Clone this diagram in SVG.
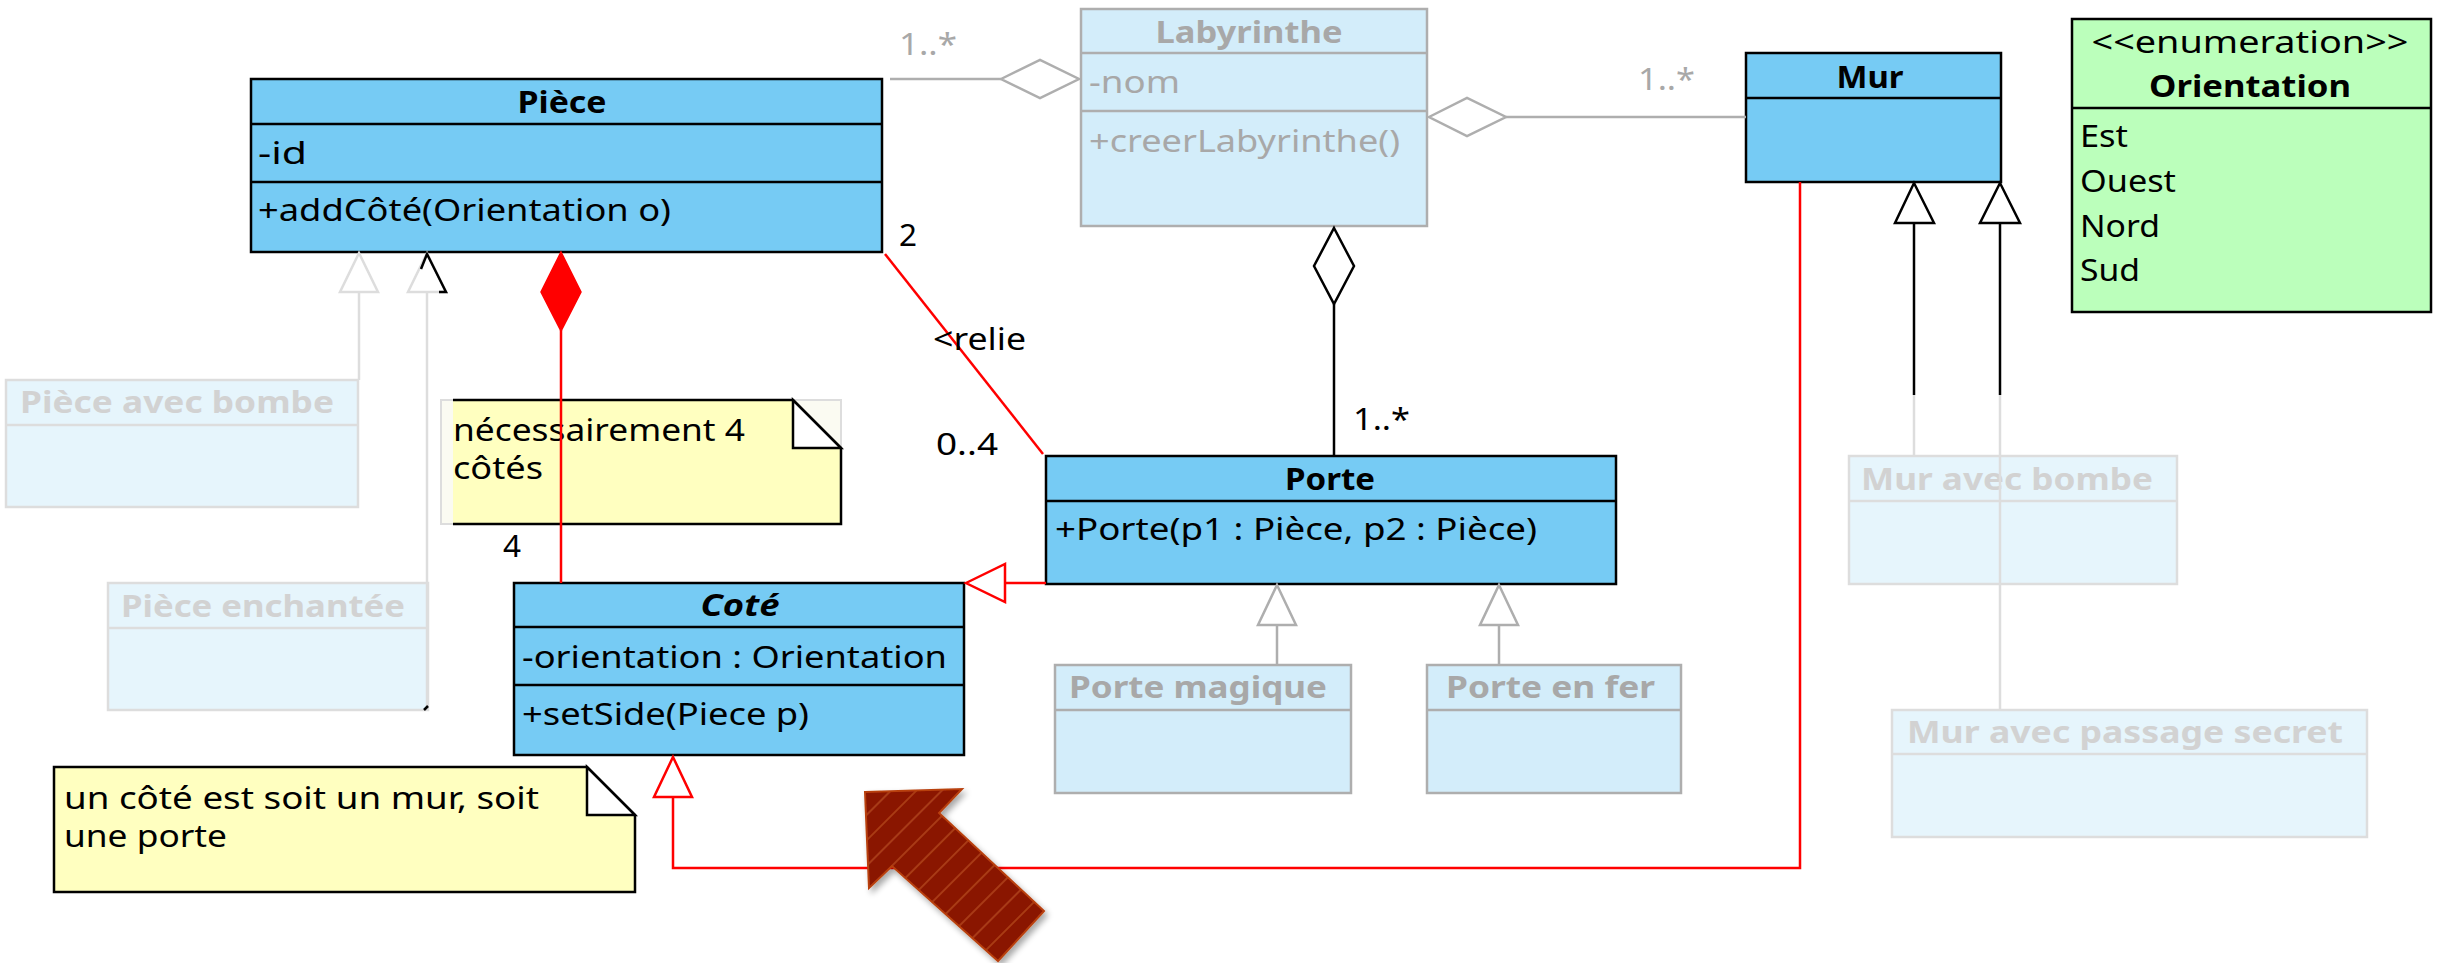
<svg xmlns="http://www.w3.org/2000/svg" width="2446" height="963" viewBox="0 0 2446 963">
<style>
.t{font-family:"Noto Sans","DejaVu Sans","Liberation Sans",sans-serif;font-size:31px;fill:#000}
.b{font-weight:bold}
.i{font-style:italic}
.c{text-anchor:middle}
.g1{fill:#A8A8A8}
.g2{fill:#D2D2D2}
.box{fill:#76CBF4;stroke:#000;stroke-width:2.5}
.fade{fill:#D3EDFA;stroke:#AEAEAE;stroke-width:2.5}
.fade2{fill:#E6F5FC;stroke:#DDDDDD;stroke-width:2.5}
.enum{fill:#BBFFBB;stroke:#000;stroke-width:2.5}
.dk{stroke:#000;stroke-width:2.5;fill:none}
.dg{stroke:#AEAEAE;stroke-width:2.5;fill:none}
.dg2{stroke:#DDDDDD;stroke-width:2.5;fill:none}
.note{fill:#FFFFC0}
.red{stroke:#FF0000;stroke-width:2.5;fill:none}
</style>
<defs>
<pattern id="stripes" patternUnits="userSpaceOnUse" width="18" height="18" patternTransform="rotate(45)">
<rect width="18" height="18" fill="#8A1400"/>
<rect x="0" y="0" width="2" height="18" fill="#A83A14"/>
</pattern>
<filter id="shadow" x="-20%" y="-20%" width="140%" height="140%">
<feGaussianBlur in="SourceAlpha" stdDeviation="3"/>
<feOffset dx="3" dy="4" result="o"/>
<feComponentTransfer><feFuncA type="linear" slope="0.35"/></feComponentTransfer>
<feMerge><feMergeNode/><feMergeNode in="SourceGraphic"/></feMerge>
</filter>
</defs>

<g id="node-piece">
<rect class="box" x="251" y="79" width="631" height="173"/>
<line class="dk" x1="251" y1="124" x2="882" y2="124"/>
<line class="dk" x1="251" y1="182" x2="882" y2="182"/>
<text class="t b c" x="562" y="113" textLength="89" lengthAdjust="spacingAndGlyphs">Pièce</text>
<text class="t" x="258" y="164" textLength="49" lengthAdjust="spacingAndGlyphs">-id</text>
<text class="t" x="258" y="221" textLength="413" lengthAdjust="spacingAndGlyphs">+addCôté(Orientation o)</text>
</g>

<g id="node-labyrinthe">
<rect class="fade" x="1081" y="9" width="346" height="217"/>
<line class="dg" x1="1081" y1="53" x2="1427" y2="53"/>
<line class="dg" x1="1081" y1="111" x2="1427" y2="111"/>
<text class="t b c g1" x="1249" y="43" textLength="187" lengthAdjust="spacingAndGlyphs">Labyrinthe</text>
<text class="t g1" x="1089" y="93" textLength="91" lengthAdjust="spacingAndGlyphs">-nom</text>
<text class="t g1" x="1089" y="152" textLength="311" lengthAdjust="spacingAndGlyphs">+creerLabyrinthe()</text>
</g>

<g id="node-mur">
<rect class="box" x="1746" y="53" width="255" height="129"/>
<line class="dk" x1="1746" y1="98" x2="2001" y2="98"/>
<text class="t b c" x="1870" y="88" textLength="67" lengthAdjust="spacingAndGlyphs">Mur</text>
</g>

<g id="node-orientation">
<rect class="enum" x="2072" y="19" width="359" height="293"/>
<line class="dk" x1="2072" y1="108" x2="2431" y2="108"/>
<text class="t c" x="2250" y="53" textLength="317" lengthAdjust="spacingAndGlyphs">&lt;&lt;enumeration&gt;&gt;</text>
<text class="t b c" x="2250" y="97" textLength="202" lengthAdjust="spacingAndGlyphs">Orientation</text>
<text class="t" x="2080" y="147" textLength="48" lengthAdjust="spacingAndGlyphs">Est</text>
<text class="t" x="2080" y="192" textLength="96" lengthAdjust="spacingAndGlyphs">Ouest</text>
<text class="t" x="2080" y="237" textLength="80" lengthAdjust="spacingAndGlyphs">Nord</text>
<text class="t" x="2080" y="281" textLength="60" lengthAdjust="spacingAndGlyphs">Sud</text>
</g>

<g id="node-piece-avec-bombe">
<rect class="fade2" x="6" y="380" width="352" height="127"/>
<line class="dg2" x1="6" y1="425" x2="358" y2="425"/>
<text class="t b g2" x="20" y="413" textLength="314" lengthAdjust="spacingAndGlyphs">Pièce avec bombe</text>
</g>

<g id="node-piece-enchantee">
<rect class="fade2" x="108" y="583" width="320" height="127"/>
<line class="dg2" x1="108" y1="628" x2="428" y2="628"/>
<text class="t b g2" x="121" y="617" textLength="284" lengthAdjust="spacingAndGlyphs">Pièce enchantée</text>
</g>

<g id="node-cote">
<rect class="box" x="514" y="583" width="450" height="172"/>
<line class="dk" x1="514" y1="627" x2="964" y2="627"/>
<line class="dk" x1="514" y1="685" x2="964" y2="685"/>
<text class="t b i c" x="740" y="616" textLength="79" lengthAdjust="spacingAndGlyphs">Coté</text>
<text class="t" x="522" y="668" textLength="425" lengthAdjust="spacingAndGlyphs">-orientation : Orientation</text>
<text class="t" x="522" y="725" textLength="287" lengthAdjust="spacingAndGlyphs">+setSide(Piece p)</text>
</g>

<g id="node-porte">
<rect class="box" x="1046" y="456" width="570" height="128"/>
<line class="dk" x1="1046" y1="501" x2="1616" y2="501"/>
<text class="t b c" x="1330" y="490" textLength="90" lengthAdjust="spacingAndGlyphs">Porte</text>
<text class="t" x="1055" y="540" textLength="482" lengthAdjust="spacingAndGlyphs">+Porte(p1 : Pièce, p2 : Pièce)</text>
</g>

<g id="node-porte-magique">
<rect class="fade" x="1055" y="665" width="296" height="128"/>
<line class="dg" x1="1055" y1="710" x2="1351" y2="710"/>
<text class="t b g1" x="1069" y="698" textLength="258" lengthAdjust="spacingAndGlyphs">Porte magique</text>
</g>

<g id="node-porte-en-fer">
<rect class="fade" x="1427" y="665" width="254" height="128"/>
<line class="dg" x1="1427" y1="710" x2="1681" y2="710"/>
<text class="t b g1" x="1446" y="698" textLength="209" lengthAdjust="spacingAndGlyphs">Porte en fer</text>
</g>

<g id="node-mur-avec-bombe">
<rect class="fade2" x="1849" y="456" width="328" height="128"/>
<line class="dg2" x1="1849" y1="501" x2="2177" y2="501"/>
<text class="t b g2" x="1861" y="490" textLength="292" lengthAdjust="spacingAndGlyphs">Mur avec bombe</text>
</g>

<g id="node-mur-passage-secret">
<rect class="fade2" x="1892" y="710" width="475" height="127"/>
<line class="dg2" x1="1892" y1="754" x2="2367" y2="754"/>
<text class="t b g2" x="1907" y="743" textLength="436" lengthAdjust="spacingAndGlyphs">Mur avec passage secret</text>
</g>

<g id="note-4-cotes">
<rect x="441" y="400" width="400" height="124" fill="#FBFBF2" stroke="#DDDDDD" stroke-width="2"/>
<path class="note" d="M453,400 H793 L841,448 V524 H453 Z"/>
<path class="dk" d="M453,400 H793 L841,448 V524 H453"/>
<path d="M793,400 V448 H841 Z" fill="#FFFFFF" stroke="#000" stroke-width="2.5"/>
<text class="t" x="453" y="441" textLength="292" lengthAdjust="spacingAndGlyphs">nécessairement 4</text>
<text class="t" x="453" y="479" textLength="90" lengthAdjust="spacingAndGlyphs">côtés</text>
</g>

<g id="note-cote">
<path class="note" d="M54,767 H587 L635,815 V892 H54 Z" stroke="#000" stroke-width="2.5"/>
<path d="M587,767 V815 H635 Z" fill="#FFFFFF" stroke="#000" stroke-width="2.5"/>
<text class="t" x="64" y="809" textLength="475" lengthAdjust="spacingAndGlyphs">un côté est soit un mur, soit</text>
<text class="t" x="64" y="847" textLength="163" lengthAdjust="spacingAndGlyphs">une porte</text>
</g>

<g id="connectors">
<line class="dg" x1="890" y1="79" x2="1001" y2="79"/>
<polygon class="dg" points="1001,79 1040,60 1079,79 1040,98" fill="#fff"/>
<text class="t g1" x="899" y="55" textLength="58" lengthAdjust="spacingAndGlyphs">1..*</text>
<line class="dg" x1="1506" y1="117" x2="1746" y2="117"/>
<polygon class="dg" points="1429,117 1467,98 1506,117 1467,136" fill="#fff"/>
<text class="t g1" x="1638" y="90" textLength="57" lengthAdjust="spacingAndGlyphs">1..*</text>
<line class="dk" x1="1334" y1="304" x2="1334" y2="456"/>
<polygon class="dk" points="1334,228 1354,266 1334,304 1314,266" fill="#fff"/>
<text class="t" x="1353" y="430" textLength="57" lengthAdjust="spacingAndGlyphs">1..*</text>
<line class="red" x1="885" y1="254" x2="1043" y2="454"/>
<text class="t" x="899" y="246" textLength="18" lengthAdjust="spacingAndGlyphs">2</text>
<text class="t" x="933" y="350" textLength="93" lengthAdjust="spacingAndGlyphs">&lt;relie</text>
<text class="t" x="936" y="455" textLength="62" lengthAdjust="spacingAndGlyphs">0..4</text>
<line class="red" x1="561" y1="330" x2="561" y2="583"/>
<polygon points="561,252 581,292 561,331 541,292" fill="#FF0000" stroke="#FF0000" stroke-width="1.5"/>
<text class="t" x="503" y="557" textLength="18" lengthAdjust="spacingAndGlyphs">4</text>
<line class="dg2" x1="359" y1="292" x2="359" y2="380"/>
<polygon class="dg2" points="359,253 378,292 340,292" fill="#fff"/>
<line class="dg2" x1="427" y1="292" x2="427" y2="710"/>
<polygon class="dg2" points="427,253 446,292 408,292" fill="#fff"/>
<path class="dk" d="M421,269 L427,254 L446,292 H439"/>
<path class="dk" d="M424,710 L428,706"/>
<line class="red" x1="1005" y1="583" x2="1046" y2="583"/>
<polygon class="red" points="966,583 1005,564 1005,602" fill="#fff"/>
<polyline class="red" points="1800,182 1800,868 673,868 673,797"/>
<polygon class="red" points="673,757 692,797 654,797" fill="#fff"/>
<line class="dg" x1="1277" y1="625" x2="1277" y2="665"/>
<polygon class="dg" points="1277,585 1296,625 1258,625" fill="#fff"/>
<line class="dg" x1="1499" y1="625" x2="1499" y2="665"/>
<polygon class="dg" points="1499,585 1518,625 1480,625" fill="#fff"/>
<line class="dk" x1="1914" y1="223" x2="1914" y2="395"/>
<line class="dg2" x1="1914" y1="395" x2="1914" y2="456"/>
<polygon class="dk" points="1914,183 1934,223 1895,223" fill="#fff"/>
<line class="dk" x1="2000" y1="223" x2="2000" y2="395"/>
<line class="dg2" x1="2000" y1="395" x2="2000" y2="710"/>
<polygon class="dk" points="2000,183 2020,223 1980,223" fill="#fff"/>
</g>

<g id="highlight-arrow" filter="url(#shadow)">
<polygon points="865,792 962,789 939,813 1044,911 998,961 892,866 869,888" fill="url(#stripes)" stroke="#B8400E" stroke-width="2"/>
</g>
</svg>
